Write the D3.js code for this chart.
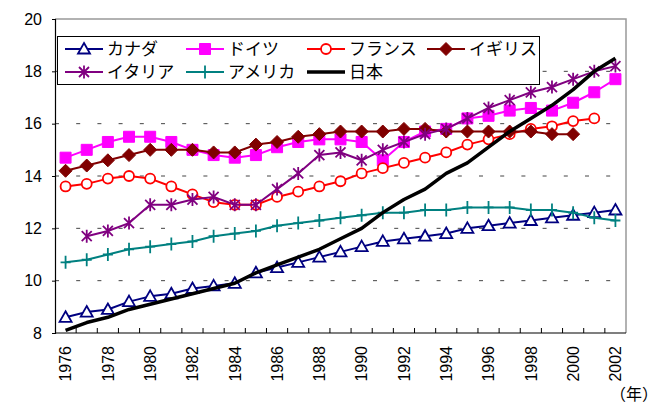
<!DOCTYPE html>
<html>
<head>
<meta charset="utf-8">
<script src="https://cdn.jsdelivr.net/npm/d3@7"></script>
<style>
  body { margin: 0; background: #fff; }
  text { font-family: "Liberation Sans", "Noto Sans CJK JP", sans-serif; fill: #000; }
</style>
</head>
<body>
<div id="chart"></div>
<script>
"use strict";

/* categories */
const years = [1976, 1977, 1978, 1979, 1980, 1981, 1982, 1983, 1984, 1985, 1986, 1987, 1988, 1989,
  1990, 1991, 1992, 1993, 1994, 1995, 1996, 1997, 1998, 1999, 2000, 2001, 2002];
const yTicks = [8, 10, 12, 14, 16, 18, 20];

/* series values */
const canada  = [8.6, 8.8, 8.9, 9.2, 9.4, 9.5, 9.7, 9.8, 9.9, 10.3, 10.5, 10.7, 10.9, 11.1, 11.3, 11.5, 11.6, 11.7, 11.8, 12.0, 12.1, 12.2, 12.3, 12.4, 12.5, 12.6, 12.7];
const germany = [14.7, 15.0, 15.3, 15.5, 15.5, 15.3, 15.0, 14.8, 14.7, 14.8, 15.1, 15.3, 15.4, 15.4, 15.3, 14.6, 15.3, 15.7, 15.8, 16.2, 16.3, 16.5, 16.6, 16.5, 16.8, 17.2, 17.7];
const france  = [13.6, 13.7, 13.9, 14.0, 13.9, 13.6, 13.3, 13.0, 12.9, 12.9, 13.2, 13.4, 13.6, 13.8, 14.1, 14.3, 14.5, 14.7, 14.9, 15.2, 15.4, 15.6, 15.8, 15.9, 16.1, 16.2, null];
const uk      = [14.2, 14.4, 14.6, 14.8, 15.0, 15.0, 15.0, 14.9, 14.9, 15.2, 15.3, 15.5, 15.6, 15.7, 15.7, 15.7, 15.8, 15.8, 15.7, 15.7, 15.7, 15.7, 15.7, 15.6, 15.6, null, null];
const italy   = [null, 11.7, 11.9, 12.2, 12.9, 12.9, 13.1, 13.2, 12.9, 12.9, 13.5, 14.1, 14.8, 14.9, 14.6, 15.0, 15.3, 15.6, 15.8, 16.2, 16.6, 16.9, 17.2, 17.4, 17.7, 18.0, 18.2];
const usa     = [10.7, 10.8, 11.0, 11.2, 11.3, 11.4, 11.5, 11.7, 11.8, 11.9, 12.1, 12.2, 12.3, 12.4, 12.5, 12.6, 12.6, 12.7, 12.7, 12.8, 12.8, 12.8, 12.7, 12.7, 12.6, 12.4, 12.3];
const japan   = [8.1, 8.4, 8.6, 8.9, 9.1, 9.3, 9.5, 9.7, 9.9, 10.3, 10.6, 10.9, 11.2, 11.6, 12.0, 12.6, 13.1, 13.5, 14.1, 14.5, 15.1, 15.7, 16.2, 16.7, 17.3, 18.0, 18.5];

const seriesNames = ["カナダ", "ドイツ", "フランス", "イギリス", "イタリア", "アメリカ", "日本"];

/* marker shapes (centered at 0,0) */
const markers = {
  triangle: "M0,-6L6,4.5L-6,4.5Z",
  square: "M-5.5,-5.5H5.5V5.5H-5.5Z",
  circle: "M5,0A5,5 0 1,1 -5,0A5,5 0 1,1 5,0Z",
  diamond: "M0,-6.5L6.5,0L0,6.5L-6.5,0Z",
  star: "M0,-6.5V6.5M-5,-5L5,5M-5,5L5,-5",
  plus: "M0,-6.5V6.5M-5,0H5",
  none: null
};

const series = [
  {name: seriesNames[0], values: canada,  color: "#000080", width: 2, marker: "triangle", fill: "#fff"},
  {name: seriesNames[1], values: germany, color: "#ff00ff", width: 2, marker: "square",   fill: "#ff00ff"},
  {name: seriesNames[2], values: france,  color: "#ff0000", width: 2, marker: "circle",   fill: "#fff"},
  {name: seriesNames[3], values: uk,      color: "#800000", width: 2, marker: "diamond",  fill: "#800000"},
  {name: seriesNames[4], values: italy,   color: "#800080", width: 2, marker: "star",     fill: "none"},
  {name: seriesNames[5], values: usa,     color: "#008080", width: 2, marker: "plus",     fill: "none"},
  {name: seriesNames[6], values: japan,   color: "#000000", width: 3.5, marker: "none",   fill: "none"}
];

const width = 664, height = 403;
const margin = {top: 19, right: 38, bottom: 70, left: 55};

const svg = d3.select("#chart").append("svg")
    .attr("width", width)
    .attr("height", height);

svg.append("rect").attr("width", width).attr("height", height).attr("fill", "#fff");

const x = d3.scaleBand()
    .domain(years)
    .range([margin.left, width - margin.right])
    .padding(0);

const y = d3.scaleLinear()
    .domain([8, 20])
    .range([height - margin.bottom, margin.top]);

const cx = function(yr) { return x(yr) + x.bandwidth() / 2; };

/* dashed gridlines */
svg.append("g")
  .selectAll("line")
  .data(yTicks.slice(1, -1))
  .enter().append("line")
    .attr("x1", margin.left)
    .attr("x2", width - margin.right)
    .attr("y1", function(d) { return y(d); })
    .attr("y2", function(d) { return y(d); })
    .attr("stroke", "#444")
    .attr("stroke-width", 1)
    .attr("stroke-dasharray", "4,17.2");

/* frame: top and right in grey */
svg.append("path")
    .attr("d", "M" + margin.left + "," + y(20) + "H" + (width - margin.right) + "V" + y(8))
    .attr("fill", "none")
    .attr("stroke", "#999")
    .attr("stroke-width", 1.5);

/* y axis */
const yAxis = svg.append("g")
    .attr("transform", "translate(" + margin.left + ",0)")
    .call(d3.axisLeft(y).tickValues(yTicks).tickSize(3).tickPadding(10).tickFormat(d3.format("d")));
yAxis.select(".domain").attr("stroke", "#000").attr("stroke-width", 1.2);
yAxis.selectAll(".tick line").attr("stroke", "#000");
yAxis.selectAll(".tick text")
    .attr("font-size", "16px")
    .style("font-family", "'Liberation Sans', sans-serif");

/* x axis: ticks between categories pointing inward */
svg.append("g")
  .selectAll("line")
  .data(years.slice(1))
  .enter().append("line")
    .attr("x1", function(d) { return x(d); })
    .attr("x2", function(d) { return x(d); })
    .attr("y1", y(8))
    .attr("y2", y(8) - 5)
    .attr("stroke", "#000");

svg.append("line")
    .attr("x1", margin.left)
    .attr("x2", width - margin.right)
    .attr("y1", y(8))
    .attr("y2", y(8))
    .attr("stroke", "#000")
    .attr("stroke-width", 1.2);

/* x labels every second year, rotated */
svg.append("g")
  .selectAll("text")
  .data(years.filter(function(d) { return d % 2 === 0; }))
  .enter().append("text")
    .attr("transform", function(d) { return "translate(" + cx(d) + "," + (y(8) + 13) + ") rotate(-90)"; })
    .attr("text-anchor", "end")
    .attr("dy", "0.36em")
    .attr("font-size", "16px")
    .text(function(d) { return d; });

/* unit label */
svg.append("text")
    .attr("x", 658)
    .attr("y", 400)
    .attr("text-anchor", "end")
    .attr("font-size", "16px")
    .text("（年）");

/* lines and markers */
const line = d3.line()
    .defined(function(d) { return d != null; })
    .x(function(d, i) { return cx(years[i]); })
    .y(function(d) { return y(d); });

series.forEach(function(s) {
  const g = svg.append("g");
  g.append("path")
      .datum(s.values)
      .attr("d", line)
      .attr("fill", "none")
      .attr("stroke", s.color)
      .attr("stroke-width", s.width)
      .attr("stroke-linejoin", "round");

  if (!markers[s.marker]) return;
  g.selectAll(".marker")
    .data(s.values.map(function(v, i) { return {v: v, yr: years[i]}; }).filter(function(d) { return d.v != null; }))
    .enter().append("path")
      .attr("class", "marker")
      .attr("transform", function(d) { return "translate(" + cx(d.yr) + "," + y(d.v) + ")"; })
      .attr("d", markers[s.marker])
      .attr("fill", s.fill)
      .attr("stroke", s.color)
      .attr("stroke-width", s.marker === "square" || s.marker === "diamond" ? 1 : 1.8);
});

/* legend */
const legend = svg.append("g");
legend.append("rect")
    .attr("x", 57.5)
    .attr("y", 36.5)
    .attr("width", 482)
    .attr("height", 48)
    .attr("fill", "#fff")
    .attr("stroke", "#000")
    .attr("stroke-width", 1);

const legendX = [65, 186, 307, 427], legendY = [49, 72];

const item = legend.selectAll(".item")
  .data(series)
  .enter().append("g")
    .attr("class", "item")
    .attr("transform", function(d, i) { return "translate(" + legendX[i % 4] + "," + legendY[Math.floor(i / 4)] + ")"; });

item.append("line")
    .attr("x1", 0).attr("x2", 38)
    .attr("stroke", function(d) { return d.color; })
    .attr("stroke-width", function(d) { return d.width; });

item.filter(function(d) { return markers[d.marker]; })
  .append("path")
    .attr("transform", "translate(19,0)")
    .attr("d", function(d) { return markers[d.marker]; })
    .attr("fill", function(d) { return d.fill; })
    .attr("stroke", function(d) { return d.color; })
    .attr("stroke-width", function(d) { return d.marker === "square" || d.marker === "diamond" ? 1 : 1.8; });

item.append("text")
    .attr("x", 42)
    .attr("dy", "0.36em")
    .attr("font-size", "17px")
    .text(function(d) { return d.name; });
</script>
</body>
</html>
